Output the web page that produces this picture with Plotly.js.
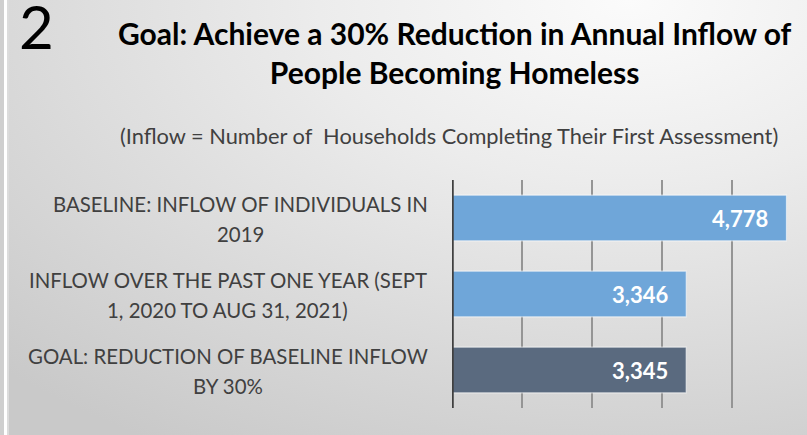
<!DOCTYPE html>
<html>
<head>
<meta charset="utf-8">
<script src="https://cdn.plot.ly/plotly-3.0.1.min.js"></script>
<style>
  html, body { margin: 0; padding: 0; }
  body {
    width: 807px; height: 435px; overflow: hidden; position: relative;
    background: radial-gradient(ellipse 110% 120% at 78% 0%, #fbfbfb 0%, #ececec 35%, #d9d9d9 70%, #c9c9c9 100%);
  }
  #strip1 { position: absolute; left: 0; top: 0; width: 4px; height: 435px; background: #cfcfcf; }
  #strip2 { position: absolute; left: 4px; top: 0; width: 3px; height: 435px; background: #ffffff; }
  #strip3 { position: absolute; left: 7px; top: 0; width: 2px; height: 435px; background: #dcdcdc; }
  #chart { position: absolute; left: 0; top: 0; width: 807px; height: 435px; }
</style>
</head>
<body>
<div id="strip1"></div><div id="strip2"></div><div id="strip3"></div>
<div id="chart"></div>
<script>
const categories = [
  "BASELINE: INFLOW OF INDIVIDUALS IN<br>2019",
  "INFLOW OVER THE PAST ONE YEAR (SEPT<br>1, 2020 TO AUG 31, 2021)",
  "GOAL: REDUCTION OF BASELINE INFLOW<br>BY 30%"
];
const values = [4778, 3346, 3345];
const valueLabels = ["4,778", "3,346", "3,345"];
const barColors = ["#6fa6d9", "#6fa6d9", "#5a6a7f"];
const xTicks = [0, 1000, 2000, 3000, 4000, 5000];
const slideNumber = "2";
const titleText = "Goal: Achieve a 30% Reduction in Annual Inflow of<br>People Becoming Homeless";
const subtitleText = "(Inflow = Number of  Households Completing Their First Assessment)";

const W = 807, H = 435;
const L = 452, R = 5, T = 180, B = 27;
const pw = W - L - R, ph = H - T - B;
const px = X => (X - L) / pw;
const py = Y => (H - B - Y) / ph;

const catFont = {family: "Lato, sans-serif", size: 20.4, color: "#404040"};
const ctx = document.createElement("canvas").getContext("2d");
ctx.font = catFont.size + "px Lato";
const labelRight = 428;

const annotations = [];
// category labels: lines centred on each other, block right-aligned
categories.forEach((c, i) => {
  const lines = c.split("<br>");
  const widths = lines.map(ln => ctx.measureText(ln).width);
  const blockW = Math.max(...widths);
  const cx = labelRight - blockW / 2;
  lines.forEach((ln, j) => {
    annotations.push({
      xref: "paper", yref: "y", x: px(cx), y: i, xanchor: "center", yanchor: "middle",
      text: ln, showarrow: false, align: "center",
      yshift: (lines.length === 1 ? 0 : (j === 0 ? 14 : -16)),
      font: catFont
    });
  });
});
// value labels
values.forEach((v, i) => {
  annotations.push({
    xref: "x", yref: "y", x: v, y: i, xanchor: "right", yanchor: "middle",
    text: valueLabels[i], showarrow: false, xshift: -16,
    font: {family: "Lato, sans-serif", size: 22, color: "#ffffff", weight: "bold"}
  });
});
// slide number
annotations.push({
  xref: "paper", yref: "paper", x: px(17), y: py(26), xanchor: "left", yanchor: "middle",
  text: slideNumber, showarrow: false,
  font: {family: "Lato, sans-serif", size: 60, color: "#000000"}
});
// title
annotations.push({
  xref: "paper", yref: "paper", x: px(455), y: py(53), xanchor: "center", yanchor: "middle",
  text: titleText, showarrow: false, align: "center",
  font: {family: "Lato, sans-serif", size: 30, color: "#000000", weight: "bold"}
});
// subtitle
annotations.push({
  xref: "paper", yref: "paper", x: px(449), y: py(135), xanchor: "center", yanchor: "middle",
  text: subtitleText, showarrow: false,
  font: {family: "Lato, sans-serif", size: 21.8, color: "#404040"}
});

const trace = {
  type: "bar", orientation: "h",
  y: categories.map((c, i) => i), x: values,
  marker: {color: barColors, line: {color: "rgba(255,255,255,0.55)", width: 1.2}},
  hoverinfo: "skip", width: 0.6
};

const layout = {
  width: W, height: H,
  margin: {l: L, r: R, t: T, b: B, pad: 0},
  paper_bgcolor: "rgba(0,0,0,0)", plot_bgcolor: "rgba(0,0,0,0)",
  showlegend: false,
  xaxis: {
    range: [0, 5000], tickvals: xTicks, showticklabels: false,
    showgrid: true, gridcolor: "#959595", gridwidth: 2,
    zeroline: false, showline: false, fixedrange: true
  },
  yaxis: {
    range: [2.5, -0.5], tickvals: [0, 1, 2], showticklabels: false,
    showgrid: false, zeroline: false, showline: false, fixedrange: true
  },
  shapes: [{
    type: "line", xref: "x", yref: "paper", x0: 0, x1: 0, y0: 0, y1: 1,
    line: {color: "#404040", width: 3.5}
  }],
  annotations: annotations
};

Plotly.newPlot("chart", [trace], layout, {displayModeBar: false, staticPlot: true});
</script>
</body>
</html>
